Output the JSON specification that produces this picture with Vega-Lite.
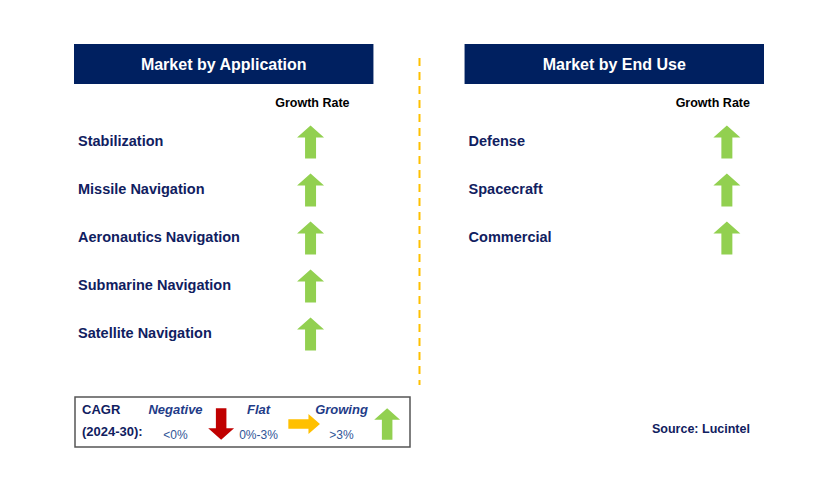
{
  "$schema": "https://vega.github.io/schema/vega-lite/v6.json",
  "width": 829,
  "height": 493,
  "autosize": "none",
  "padding": 0,
  "background": "white",
  "config": {"view": {"stroke": null}},
  "datasets": {
    "panels": [
      {"panel": "Market by Application"},
      {"panel": "Market by End Use"}
    ],
    "segments": [
      {"panel": "Market by Application", "segment": "Stabilization", "rank": 1, "trend": "Growing"},
      {"panel": "Market by Application", "segment": "Missile Navigation", "rank": 2, "trend": "Growing"},
      {"panel": "Market by Application", "segment": "Aeronautics Navigation", "rank": 3, "trend": "Growing"},
      {"panel": "Market by Application", "segment": "Submarine Navigation", "rank": 4, "trend": "Growing"},
      {"panel": "Market by Application", "segment": "Satellite Navigation", "rank": 5, "trend": "Growing"},
      {"panel": "Market by End Use", "segment": "Defense", "rank": 1, "trend": "Growing"},
      {"panel": "Market by End Use", "segment": "Spacecraft", "rank": 2, "trend": "Growing"},
      {"panel": "Market by End Use", "segment": "Commercial", "rank": 3, "trend": "Growing"}
    ],
    "legendTitle": [{"title": "CAGR\n(2024-30):"}],
    "legendItems": [
      {"trend": "Negative", "label": "Negative", "range": "<0%"},
      {"trend": "Flat", "label": "Flat", "range": "0%-3%"},
      {"trend": "Growing", "label": "Growing", "range": ">3%"}
    ]
  },
  "resolve": {"scale": {"x": "independent"}},
  "layer": [
    {
      "layer": [
        {
          "data": {"name": "panels"},
          "mark": {"type": "bar", "color": "#002060"},
          "encoding": {
            "x": {"field": "panel", "type": "nominal", "axis": null, "scale": {"type": "band", "domain": ["Market by Application", "Market by End Use"], "range": [74, 764], "paddingInner": 0.2333, "paddingOuter": 0}},
            "y": {"datum": -1.0417, "type": "quantitative", "axis": null, "scale": {"domain": [1, 5], "range": [142, 334], "zero": false, "nice": false}},
            "y2": {"datum": -0.2083}
          }
        },
        {
          "data": {"name": "panels"},
          "mark": {"type": "text", "font": "Liberation Sans", "fontWeight": "bold", "fontSize": 16, "color": "white", "baseline": "middle"},
          "encoding": {
            "x": {"field": "panel", "type": "nominal", "axis": null},
            "y": {"datum": -0.6, "type": "quantitative", "axis": null},
            "text": {"field": "panel"}
          }
        },
        {
          "data": {"name": "panels"},
          "transform": [{"filter": "datum.panel === 'Market by Application'"}],
          "mark": {"type": "text", "font": "Liberation Sans", "fontWeight": "bold", "fontSize": 12.5, "color": "black", "baseline": "middle"},
          "encoding": {
            "x": {"field": "panel", "type": "nominal", "axis": null, "bandPosition": 0.796},
            "y": {"datum": 0.1875, "type": "quantitative", "axis": null},
            "text": {"value": "Growth Rate"}
          }
        },
        {
          "data": {"name": "panels"},
          "transform": [{"filter": "datum.panel === 'Market by End Use'"}],
          "mark": {"type": "text", "font": "Liberation Sans", "fontWeight": "bold", "fontSize": 12.5, "color": "black", "baseline": "middle"},
          "encoding": {
            "x": {"field": "panel", "type": "nominal", "axis": null, "bandPosition": 0.829},
            "y": {"datum": 0.1875, "type": "quantitative", "axis": null},
            "text": {"value": "Growth Rate"}
          }
        },
        {
          "data": {"name": "segments"},
          "mark": {"type": "text", "font": "Liberation Sans", "fontWeight": "bold", "fontSize": 14.5, "color": "#102060", "align": "left", "baseline": "middle", "dx": 4},
          "encoding": {
            "x": {"field": "panel", "type": "nominal", "axis": null, "bandPosition": 0},
            "y": {"field": "rank", "type": "quantitative", "axis": null},
            "text": {"field": "segment"}
          }
        },
        {
          "data": {"name": "segments"},
          "transform": [{"filter": "datum.panel === 'Market by Application'"}],
          "mark": {"type": "point", "filled": true, "opacity": 1, "size": 1089, "strokeWidth": 0},
          "encoding": {
            "x": {"field": "panel", "type": "nominal", "axis": null, "bandPosition": 0.79},
            "y": {"field": "rank", "type": "quantitative", "axis": null},
            "shape": {"field": "trend", "type": "nominal", "legend": null, "scale": {"domain": ["Negative", "Flat", "Growing"], "range": ["M0,1L0.818,0.273L0.333,0.273L0.333,-1L-0.333,-1L-0.333,0.273L-0.818,0.273Z", "M1,0L0.273,-0.64L0.273,-0.3L-1,-0.3L-1,0.3L0.273,0.3L0.273,0.64Z", "M0,-1L0.818,-0.273L0.333,-0.273L0.333,1L-0.333,1L-0.333,-0.273L-0.818,-0.273Z"]}},
            "color": {"field": "trend", "type": "nominal", "legend": null, "scale": {"domain": ["Negative", "Flat", "Growing"], "range": ["#C00000", "#FFC000", "#92D050"]}}
          }
        },
        {
          "data": {"name": "segments"},
          "transform": [{"filter": "datum.panel === 'Market by End Use'"}],
          "mark": {"type": "point", "filled": true, "opacity": 1, "size": 1089, "strokeWidth": 0},
          "encoding": {
            "x": {"field": "panel", "type": "nominal", "axis": null, "bandPosition": 0.876},
            "y": {"field": "rank", "type": "quantitative", "axis": null},
            "shape": {"field": "trend", "type": "nominal", "legend": null},
            "color": {"field": "trend", "type": "nominal", "legend": null}
          }
        },
        {
          "data": {"name": "panels"},
          "transform": [{"filter": "datum.panel === 'Market by Application'"}],
          "mark": {"type": "rule", "color": "#FFC000", "strokeWidth": 2, "strokeDash": [8, 6]},
          "encoding": {
            "x": {"field": "panel", "type": "nominal", "axis": null, "bandPosition": 1.1538},
            "y": {"datum": -0.75, "type": "quantitative", "axis": null},
            "y2": {"datum": 6.0625}
          }
        },
        {
          "data": {"name": "panels"},
          "transform": [{"filter": "datum.panel === 'Market by End Use'"}],
          "mark": {"type": "text", "font": "Liberation Sans", "fontWeight": "bold", "fontSize": 12.5, "color": "#102060", "align": "right", "baseline": "middle"},
          "encoding": {
            "x": {"field": "panel", "type": "nominal", "axis": null, "bandPosition": 0.953},
            "y": {"datum": 6.979, "type": "quantitative", "axis": null},
            "text": {"value": "Source: Lucintel"}
          }
        }
      ]
    },
    {
      "data": {"name": "legendTitle"},
      "layer": [
        {
          "mark": {"type": "bar", "fill": "white", "stroke": "#555555", "strokeWidth": 1.5},
          "encoding": {
            "x": {"field": "title", "type": "nominal", "axis": null, "scale": {"type": "band", "range": [75, 410], "paddingInner": 0, "paddingOuter": 0}},
            "y": {"datum": 6.3125, "type": "quantitative", "axis": null},
            "y2": {"datum": 7.354}
          }
        },
        {
          "mark": {"type": "text", "font": "Liberation Sans", "fontWeight": "bold", "fontSize": 13, "color": "#102060", "align": "left", "baseline": "middle", "dx": 7, "lineBreak": "\n", "lineHeight": 22},
          "encoding": {
            "x": {"field": "title", "type": "nominal", "axis": null, "bandPosition": 0},
            "y": {"datum": 6.5833, "type": "quantitative", "axis": null},
            "text": {"field": "title"}
          }
        }
      ]
    },
    {
      "data": {"name": "legendItems"},
      "layer": [
        {
          "mark": {"type": "text", "font": "Liberation Sans", "fontWeight": "bold", "fontStyle": "italic", "fontSize": 13, "color": "#1F3C88", "baseline": "middle"},
          "encoding": {
            "x": {"field": "trend", "type": "nominal", "axis": null, "scale": {"type": "band", "domain": ["Negative", "Flat", "Growing"], "range": [134, 383], "paddingInner": 0, "paddingOuter": 0}},
            "y": {"datum": 6.5833, "type": "quantitative", "axis": null},
            "text": {"field": "label"}
          }
        },
        {
          "mark": {"type": "text", "font": "Liberation Sans", "fontSize": 12, "color": "#2F5597", "baseline": "middle"},
          "encoding": {
            "x": {"field": "trend", "type": "nominal", "axis": null},
            "y": {"datum": 7.1, "type": "quantitative", "axis": null},
            "text": {"field": "range"}
          }
        },
        {
          "mark": {"type": "point", "filled": true, "opacity": 1, "size": 1000, "strokeWidth": 0},
          "encoding": {
            "x": {"field": "trend", "type": "nominal", "axis": null, "bandPosition": 1.05},
            "y": {"datum": 6.875, "type": "quantitative", "axis": null},
            "shape": {"field": "trend", "type": "nominal", "legend": null},
            "color": {"field": "trend", "type": "nominal", "legend": null}
          }
        }
      ]
    }
  ]
}
